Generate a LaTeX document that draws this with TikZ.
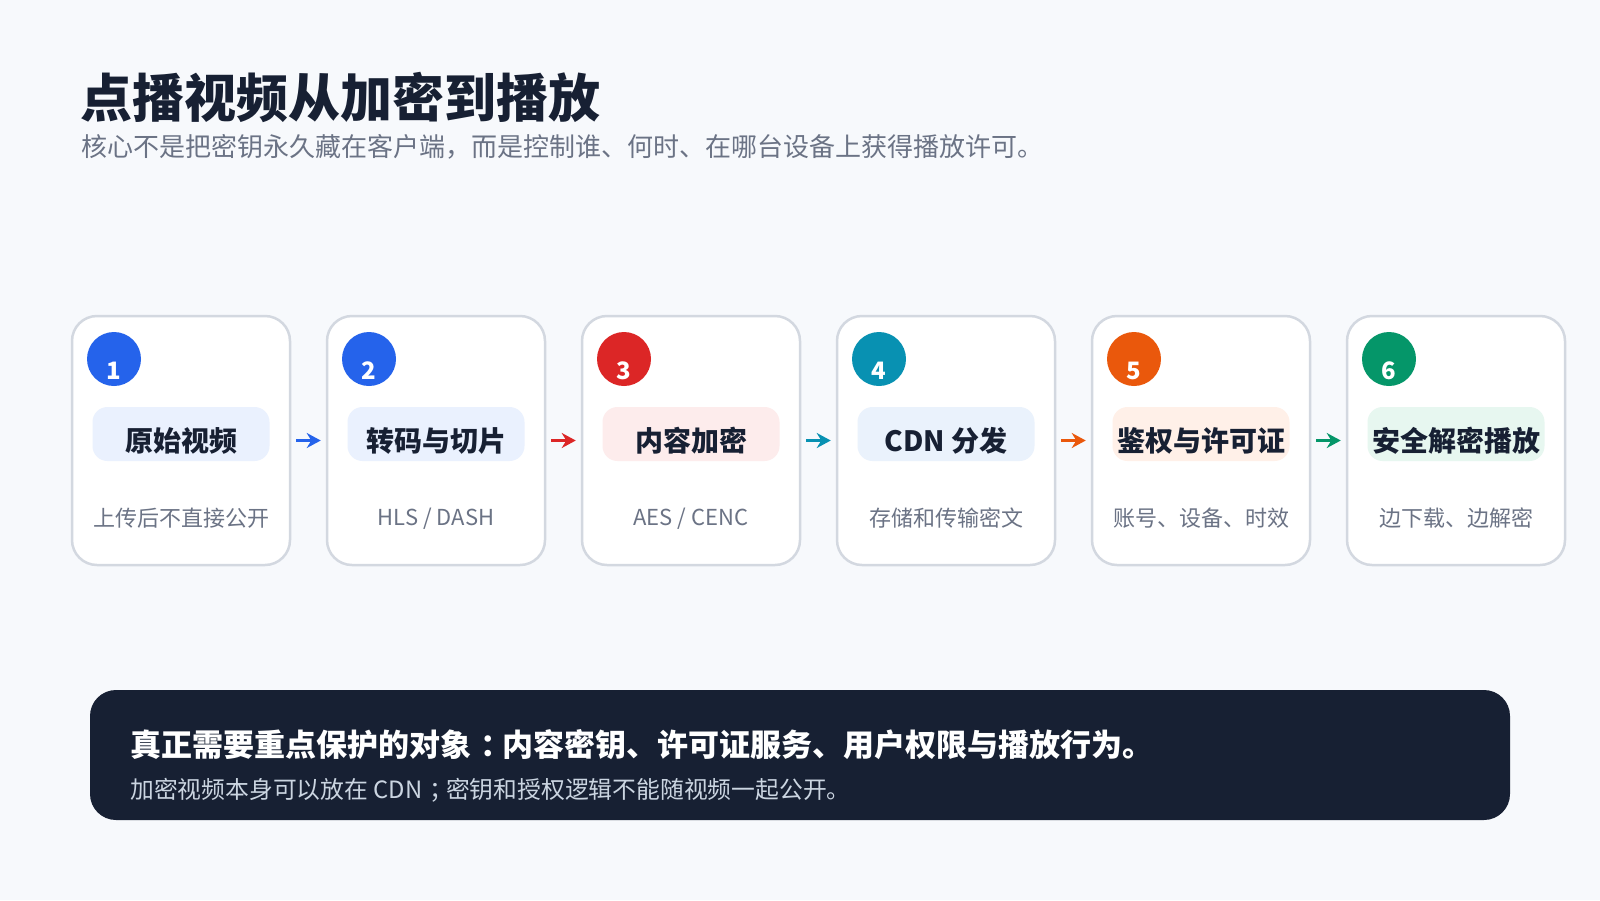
\documentclass[tikz,border=0pt]{standalone}
\usepackage{fontspec}
\setmainfont{Noto Sans CJK SC}
\usetikzlibrary{arrows.meta}
\definecolor{bg}{HTML}{F7F9FC}
\definecolor{cardline}{HTML}{D3D8E0}
\definecolor{ink}{HTML}{172033}
\definecolor{subgray}{HTML}{6B7385}
\definecolor{c1}{HTML}{2563EB}\definecolor{l1}{HTML}{EAF1FE}
\definecolor{c3}{HTML}{DC2626}\definecolor{l3}{HTML}{FDECEC}
\definecolor{c4}{HTML}{0891B2}\definecolor{l4}{HTML}{EAF2FC}
\definecolor{c5}{HTML}{EA580C}\definecolor{l5}{HTML}{FFF0E8}
\definecolor{c6}{HTML}{059669}\definecolor{l6}{HTML}{E7F7F0}
\definecolor{noteline}{HTML}{CBD5E1}
\tikzset{
  card/.style={draw=cardline, line width=2.5pt, fill=white, rounded corners=25pt,
    minimum width=218pt, minimum height=249pt, inner sep=0pt},
  pill/.style={rounded corners=15pt, minimum width=177pt, minimum height=54pt, inner sep=0pt},
  pilltext/.style={text=ink, font=\fontsize{28}{32}\selectfont\bfseries, inner sep=0pt},
  subtext/.style={text=subgray, font=\fontsize{22}{26}\selectfont, inner sep=0pt},
  badge/.style={circle, minimum size=54pt, inner sep=0pt},
  badgenum/.style={text=white, font=\fontsize{24}{28}\selectfont\bfseries, inner sep=0pt},
  flow/.style={line width=3.5pt, -{Stealth[length=14pt,width=15pt]}, shorten <=5pt, shorten >=5pt},
}
\newcommand{\stepcard}[6]{%
  \node[card] (card#1) at (#2,440.5) {};
  \node[badge, fill=#3] (badge#1) at ([xshift=-67pt,yshift=81.5pt]card#1.center) {};
  \node[badgenum] (num#1) at ([yshift=-12pt]badge#1.center) {#1};
  \node[pill, fill=#4] (pill#1) at ([yshift=6.5pt]card#1.center) {};
  \node[pilltext] (lab#1) at ([yshift=-7pt]pill#1.center) {#5};
  \node[subtext] (sub#1) at ([yshift=-78pt]card#1.center) {#6};
}
\begin{document}
\begin{tikzpicture}[x=1pt,y=-1pt]
\fill[bg] (0,0) rectangle (1600,900);
\useasboundingbox (0,0) rectangle (1600,900);
\node[anchor=west, inner sep=0pt, text=ink, font=\fontsize{52}{60}\selectfont\bfseries] (title) at (80,97) {点播视频从加密到播放};
\node[anchor=west, inner sep=0pt, text=subgray, font=\fontsize{26}{30}\selectfont] (subtitle) at (81,147) {核心不是把密钥永久藏在客户端，而是控制谁、何时、在哪台设备上获得播放许可。};
\stepcard{1}{181}{c1}{l1}{原始视频}{上传后不直接公开}
\stepcard{2}{436}{c1}{l1}{转码与切片}{HLS / DASH}
\stepcard{3}{691}{c3}{l3}{内容加密}{AES / CENC}
\stepcard{4}{946}{c4}{l4}{CDN 分发}{存储和传输密文}
\stepcard{5}{1201}{c5}{l5}{鉴权与许可证}{账号、设备、时效}
\stepcard{6}{1456}{c6}{l6}{安全解密播放}{边下载、边解密}
\draw[flow, c1] (card1.east) -- (card2.west);
\draw[flow, c3] (card2.east) -- (card3.west);
\draw[flow, c4] (card3.east) -- (card4.west);
\draw[flow, c5] (card4.east) -- (card5.west);
\draw[flow, c6] (card5.east) -- (card6.west);
\node[fill=ink, rounded corners=26pt, minimum width=1420pt, minimum height=130pt, inner sep=0pt] (note) at (800,755) {};
\node[anchor=west, inner sep=0pt, text=white, font=\fontsize{31}{34}\selectfont\bfseries] (notemain) at (130,745) {真正需要重点保护的对象\hspace{0.3em}：\hspace{-0.3em}内容密钥、许可证服务、用户权限与播放行为。};
\node[anchor=west, inner sep=0pt, text=noteline, font=\fontsize{23.8}{27}\selectfont] (notesub) at (130,790) {加密视频本身可以放在 CDN\hspace{0.3em}；\hspace{-0.3em}密钥和授权逻辑不能随视频一起公开。};
\end{tikzpicture}
\end{document}
